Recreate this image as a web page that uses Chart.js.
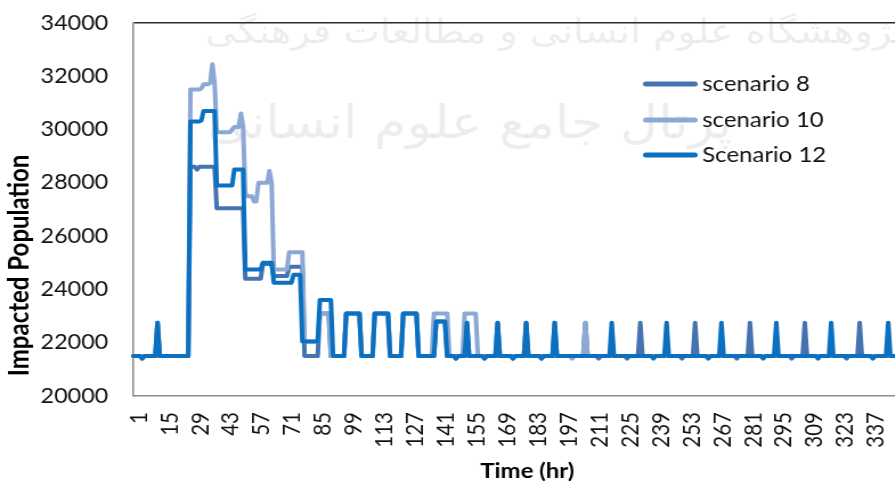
<!DOCTYPE html>
<html>
<head>
<meta charset="utf-8">
<script src="https://cdn.jsdelivr.net/npm/chart.js@4.4.1/dist/chart.umd.min.js"></script>
<style>
  html, body { margin: 0; padding: 0; background: #fff; overflow: hidden; width: 895px; height: 481px; }
  #wrap { position: absolute; left: 0; top: 0; transform-origin: 0 0; transform: scaleX(1.14); }
  canvas { display: block; }
</style>
</head>
<body>
<div id="wrap"><canvas id="chart" width="825" height="490"></canvas></div>
<script>
// Hourly impacted population for each scenario (hours 1..360)
const seriesNames = ['scenario 8', 'scenario 10', 'Scenario 12'];
const seriesColors = ['#4673af', '#8ca8d4', '#0b70c0'];

const scenario8 = [
  21500,21500,21500,21500,21400,21500,21500,21500,21500,21500,
  21500,22750,21500,21500,21500,21500,21500,21500,21500,21500,
  21500,21500,21500,21500,21500,21500,28600,28600,28600,28500,
  28600,28600,28600,28600,28600,28600,28600,28600,27050,27050,
  27050,27050,27050,27050,27050,27050,27050,27050,27050,27050,
  27050,24400,24400,24400,24400,24400,24400,24400,24400,24950,
  24950,24950,24950,24950,24500,24500,24500,24500,24500,24500,
  24500,24850,24850,24850,24850,24850,24850,24850,21500,21500,
  21500,21500,21500,21500,21500,23100,23100,23100,23100,23100,
  21500,21500,21500,21500,21500,21500,21500,23100,23100,23100,
  23100,23100,23100,23100,21500,21500,21500,21500,21500,21500,
  23100,23100,23100,23100,23100,23100,23100,21500,21500,21500,
  21500,21500,21500,23100,23100,23100,23100,23100,23100,23100,
  21500,21500,21500,21500,21500,21500,21500,21500,22800,22800,
  22800,22800,22800,21500,21500,21500,21500,21400,21500,21500,
  21500,21500,22750,21500,21500,21500,21500,21500,21500,21500,
  21400,21500,21500,21500,21500,21500,22750,21500,21500,21500,
  21500,21500,21500,21400,21500,21500,21500,21500,21500,22750,
  21500,21500,21500,21500,21500,21500,21400,21500,21500,21500,
  21500,21500,22750,21500,21500,21500,21500,21500,21500,21500,
  21500,21500,21500,21500,21500,21500,22750,21500,21500,21500,
  21500,21500,21400,21500,21500,21500,21500,21500,21500,21500,
  21500,21500,21500,21500,21500,21400,21500,21500,21500,21500,
  21500,22750,21500,21500,21500,21500,21500,21500,21500,21500,
  21500,21500,21500,21500,21500,21500,21500,21500,21500,21500,
  21400,21500,21500,21500,21500,21500,22750,21500,21500,21500,
  21500,21500,21500,21500,21500,21500,21500,21500,21500,21500,
  21500,21500,21500,21500,21500,21400,21500,21500,21500,21500,
  21500,22750,21500,21500,21500,21500,21500,21500,21500,21500,
  21500,21500,21500,21500,21500,21500,21500,21500,21500,21500,
  21400,21500,21500,21500,21500,21500,22750,21500,21500,21500,
  21500,21500,21500,21500,21500,21500,21500,21500,21500,21500,
  21500,21500,21500,21500,21500,21400,21500,21500,21500,21500,
  21500,22750,21500,21500,21500,21500,21500,21500,21500,21500,
  21500,21500,21500,21500,21500,21500,21500,21500,21500,21500,
  21400,21500,21500,21500,21500,21500,22750,21500,21500,21500
];

const scenario10 = [
  21500,21500,21500,21500,21400,21500,21500,21500,21500,21500,
  21500,22750,21500,21500,21500,21500,21500,21500,21500,21500,
  21500,21500,21500,21500,21500,21500,31500,31500,31500,31500,
  31500,31550,31700,31700,31700,31750,32450,31750,29900,29900,
  29900,29900,29900,29900,29900,30000,30100,30100,30100,30600,
  30100,27600,27500,27500,27500,27300,27300,28000,28000,28000,
  28000,28000,28450,28000,24750,24750,24750,24750,24750,24750,
  24750,25400,25400,25400,25400,25400,25400,25400,22050,22050,
  22050,22050,22050,22050,22050,23100,23100,23100,23100,23100,
  21500,21500,21500,21500,21500,21500,21500,23100,23100,23100,
  23100,23100,23100,23100,21500,21500,21500,21500,21500,21500,
  23100,23100,23100,23100,23100,23100,23100,21500,21500,21500,
  21500,21500,21500,23100,23100,23100,23100,23100,23100,23100,
  21500,21500,21500,21500,21500,21500,21500,23100,23100,23100,
  23100,23100,23100,23100,21500,21500,21500,21500,21500,21500,
  21500,23100,23100,23100,23100,23100,23100,21500,21500,21500,
  21500,21500,21500,21500,21500,21500,21500,21500,21500,21500,
  21500,21500,21500,21500,21500,21500,21500,21500,21500,21500,
  21500,21500,21500,21500,21500,21500,21500,21500,21500,21500,
  21500,21500,21500,21500,21500,21500,21500,21500,21500,21500,
  21400,21500,21500,21500,21500,21500,22750,21500,21500,21500,
  21500,21500,21500,21500,21500,21500,21500,21500,21500,21500,
  21500,21500,21500,21500,21500,21500,21500,21500,21500,21500,
  21500,21500,21500,21500,21500,21500,21500,21500,21500,21500,
  21500,21500,21500,21500,21500,21500,21500,21500,21500,21500,
  21500,21500,21500,21500,21500,21500,21500,21500,21500,21500,
  21500,21500,21500,21500,21500,21500,21500,21500,21500,21500,
  21500,21500,21500,21500,21500,21500,21500,21500,21500,21500,
  21500,21500,21500,21500,21500,21500,21500,21500,21500,21500,
  21500,21500,21500,21500,21500,21500,21500,21500,21500,21500,
  21500,21500,21500,21500,21500,21500,21500,21500,21500,21500,
  21500,21500,21500,21500,21500,21500,21500,21500,21500,21500,
  21500,21500,21500,21500,21500,21500,21500,21500,21500,21500,
  21500,21500,21500,21500,21500,21500,21500,21500,21500,21500,
  21500,21500,21500,21500,21500,21500,21500,21500,21500,21500,
  21500,21500,21500,21500,21500,21500,21500,21500,21500,21500
];

const scenario12 = [
  21500,21500,21500,21500,21400,21500,21500,21500,21500,21500,
  21500,22750,21500,21500,21500,21500,21500,21500,21500,21500,
  21500,21500,21500,21500,21500,21500,30300,30300,30300,30300,
  30300,30350,30700,30700,30700,30700,30700,30700,27900,27900,
  27900,27900,27900,27900,27900,27900,28500,28500,28500,28500,
  28500,24750,24750,24750,24750,24750,24750,24750,24750,25000,
  25000,25000,25000,25000,24250,24250,24250,24250,24250,24250,
  24250,24250,24250,24550,24550,24550,24550,22050,22050,22050,
  22050,22050,22050,22050,22050,23600,23600,23600,23600,23600,
  23600,21500,21500,21500,21500,21500,21500,23100,23100,23100,
  23100,23100,23100,23100,21500,21500,21500,21500,21500,21500,
  23100,23100,23100,23100,23100,23100,23100,21500,21500,21500,
  21500,21500,21500,23100,23100,23100,23100,23100,23100,23100,
  21500,21500,21500,21500,21500,21500,21500,21500,22800,22800,
  22800,22800,22800,21500,21500,21500,21500,21400,21500,21500,
  21500,21500,22750,21500,21500,21500,21500,21500,21500,21500,
  21400,21500,21500,21500,21500,21500,22750,21500,21500,21500,
  21500,21500,21500,21400,21500,21500,21500,21500,21500,22750,
  21500,21500,21500,21500,21500,21500,21400,21500,21500,21500,
  21500,21500,22750,21500,21500,21500,21500,21500,21500,21500,
  21500,21500,21500,21500,21500,21500,21500,21500,21500,21500,
  21500,21500,21500,21500,21500,21500,21500,21500,22750,21500,
  21500,21500,21500,21500,21500,21500,21500,21500,21500,21500,
  21500,21500,21500,21500,21500,21500,21500,21400,21500,21500,
  21500,21500,21500,22750,21500,21500,21500,21500,21500,21500,
  21500,21500,21500,21500,21500,21500,21500,21500,21500,21500,
  21500,21500,21400,21500,21500,21500,21500,21500,22750,21500,
  21500,21500,21500,21500,21500,21500,21500,21500,21500,21500,
  21500,21500,21500,21500,21500,21500,21500,21400,21500,21500,
  21500,21500,21500,22750,21500,21500,21500,21500,21500,21500,
  21500,21500,21500,21500,21500,21500,21500,21500,21500,21500,
  21500,21500,21400,21500,21500,21500,21500,21500,22750,21500,
  21500,21500,21500,21500,21500,21500,21500,21500,21500,21500,
  21500,21500,21500,21500,21500,21500,21500,21400,21500,21500,
  21500,21500,21500,21500,22750,21500,21500,21500,21500,21500,
  21500,21500,21500,21500,21500,21500,21500,21500,21500,21500
];

// Hour labels printed under the axis (every 14th hour)
const tickLabels = ['1','15','29','43','57','71','85','99','113','127','141','155','169','183',
  '197','211','225','239','253','267','281','295','309','323','337','351'];

const yMin = 20000, yMax = 34000, yStep = 2000;
const xTitle = 'Time (hr)';
const yTitle = 'Impacted Population';
const watermarkLines = ['پژوهشگاه علوم انسانی و مطالعات فرهنگی', 'پرتال جامع علوم انسانی'];

const hours = scenario12.map((_, i) => String(i + 1));

// faint site watermark behind the lines
const watermarkPlugin = {
  id: 'watermark',
  beforeDatasetsDraw(chart) {
    const { ctx } = chart;
    ctx.save();
    ctx.fillStyle = 'rgba(90,90,90,0.11)';
    ctx.textAlign = 'center';
    ctx.textBaseline = 'middle';
    ctx.font = '34px "DejaVu Sans"';
    ctx.fillText(watermarkLines[0], 487, 34);
    ctx.font = '46px "DejaVu Sans"';
    ctx.fillText(watermarkLines[1], 412, 126);
    ctx.restore();
  }
};

// vertical axis title, placed in the lower part of the axis
const yTitlePlugin = {
  id: 'yTitleText',
  afterDraw(chart) {
    const { ctx, chartArea } = chart;
    ctx.save();
    ctx.translate(17.5, chartArea.top + 0.65 * (chartArea.bottom - chartArea.top));
    ctx.rotate(-Math.PI / 2);
    ctx.font = 'bold 24px Lato';
    ctx.fillStyle = '#000';
    ctx.textAlign = 'center';
    ctx.textBaseline = 'middle';
    ctx.fillText(yTitle, 0, 0);
    ctx.restore();
  }
};

// legend drawn inside the plot, upper right
const legendPlugin = {
  id: 'insideLegend',
  afterDraw(chart) {
    const { ctx } = chart;
    const rows = [84, 120, 155];
    ctx.save();
    chart.data.datasets.forEach((ds, i) => {
      const y = rows[i];
      ctx.strokeStyle = ds.borderColor;
      ctx.lineWidth = 5;
      ctx.lineCap = 'round';
      ctx.beginPath();
      ctx.moveTo(566.5, y);
      ctx.lineTo(609.5, y);
      ctx.stroke();
      ctx.fillStyle = '#111';
      ctx.font = '21px Lato';
      ctx.textAlign = 'left';
      ctx.textBaseline = 'middle';
      ctx.fillText(ds.label, 616, y);
    });
    ctx.restore();
  }
};

new Chart(document.getElementById('chart'), {
  type: 'line',
  data: {
    labels: hours,
    datasets: [
      { label: seriesNames[0], data: scenario8, borderColor: seriesColors[0], order: 3 },
      { label: seriesNames[1], data: scenario10, borderColor: seriesColors[1], order: 2 },
      { label: seriesNames[2], data: scenario12, borderColor: seriesColors[2], order: 1 }
    ]
  },
  options: {
    responsive: false,
    animation: false,
    devicePixelRatio: 1,
    layout: { padding: { top: 23, right: 17, left: 0, bottom: 0 } },
    elements: {
      line: { borderWidth: 4, tension: 0, borderJoinStyle: 'round', borderCapStyle: 'round', fill: false },
      point: { radius: 0, hoverRadius: 0 }
    },
    plugins: { legend: { display: false }, tooltip: { enabled: false }, title: { display: false } },
    scales: {
      x: {
        grid: { display: false, drawTicks: false },
        border: { display: true, color: '#8c8c8c', width: 1.5 },
        ticks: {
          autoSkip: false, maxRotation: 90, minRotation: 90, padding: 16, labelOffset: 5,
          color: '#111', font: { family: 'Lato', size: 20.5 },
          callback: function (v) {
            const l = this.getLabelForValue(v);
            return tickLabels.includes(l) ? l : '';
          }
        },
        title: {
          display: true, text: xTitle, color: '#000',
          font: { family: 'Lato', size: 21, weight: 'bold' },
          padding: { top: 0, bottom: 6 }
        },
        afterFit: (s) => { s.height = 94; s.paddingLeft = 0; s.paddingRight = 0; }
      },
      y: {
        min: yMin, max: yMax,
        ticks: {
          stepSize: yStep, padding: 22, color: '#111',
          font: { family: 'Lato', size: 20.5 },
          callback: (v) => String(v)
        },
        grid: {
          drawTicks: false, lineWidth: 1.5,
          color: (c) => (c.tick && c.tick.value === yMax ? '#2b2b2b' : 'rgba(0,0,0,0)')
        },
        border: { display: true, color: '#8c8c8c', width: 1.5 },
        afterFit: (s) => { s.width = 117; s.paddingTop = 0; s.paddingBottom = 0; }
      }
    }
  },
  plugins: [watermarkPlugin, yTitlePlugin, legendPlugin]
});
</script>
</body>
</html>
